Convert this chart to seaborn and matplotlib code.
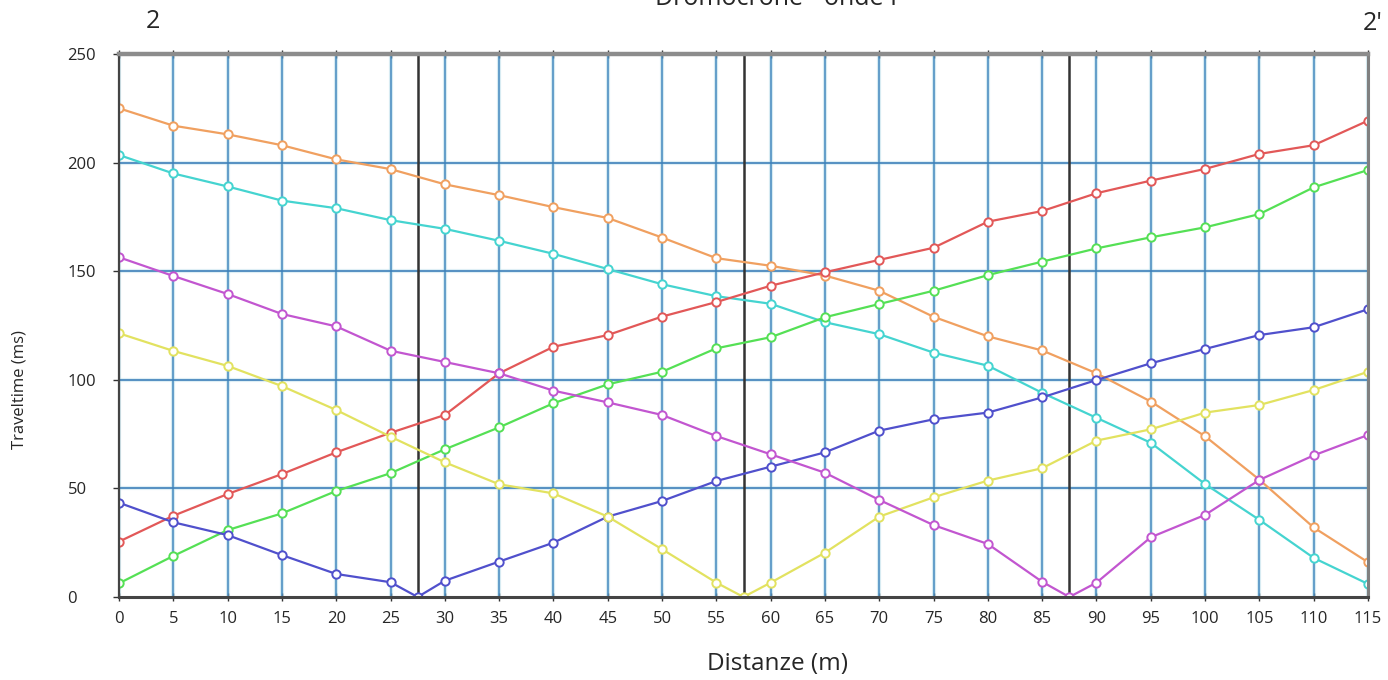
import matplotlib
matplotlib.use("Agg")
import matplotlib.pyplot as plt
import seaborn as sns
import numpy as np

# ---- data ----
x_full = [0, 5, 10, 15, 20, 25, 30, 35, 40, 45, 50, 55, 60, 65, 70, 75, 80, 85, 90, 95, 100, 105, 110, 115]
x_src1 = [0, 5, 10, 15, 20, 25, 27.5, 30, 35, 40, 45, 50, 55, 60, 65, 70, 75, 80, 85, 90, 95, 100, 105, 110, 115]
x_src2 = [0, 5, 10, 15, 20, 25, 30, 35, 40, 45, 50, 55, 57.5, 60, 65, 70, 75, 80, 85, 90, 95, 100, 105, 110, 115]
x_src3 = [0, 5, 10, 15, 20, 25, 30, 35, 40, 45, 50, 55, 60, 65, 70, 75, 80, 85, 87.5, 90, 95, 100, 105, 110, 115]

orange = [225, 217, 213, 208, 201.5, 197, 190, 185, 179.5, 174.5, 165.5, 156, 152.5, 148, 141, 129, 120, 113.5, 103, 90, 74, 54, 32, 16]
cyan = [203.5, 195, 189, 182.5, 179, 173.5, 169.5, 164, 158, 151, 144, 138.5, 135, 126.5, 121, 112.5, 106.5, 94, 82.5, 71, 52, 35.5, 18, 6]
red = [25.5, 37.4, 47.4, 56.6, 66.6, 75.6, 83.8, 103, 115.2, 120.6, 129.1, 135.8, 143.3, 149.5, 155.2, 160.8, 172.8, 177.7, 185.9, 191.7, 197.1, 204, 208, 219.3]
green = [6.3, 18.9, 30.8, 38.5, 48.8, 57, 68, 78.1, 89.2, 97.9, 103.7, 114.5, 119.6, 128.8, 134.9, 141, 148.2, 154.4, 160.5, 165.6, 170.2, 176.3, 188.6, 196.6]
blue = [43.4, 34.4, 28.5, 19.3, 10.6, 6.8, 0, 7.5, 16.3, 25, 37, 44.2, 53.4, 60, 66.6, 76.6, 81.8, 84.9, 91.9, 99.9, 107.6, 114.2, 120.6, 124.2, 132.5]
yellow = [121.4, 113.3, 106.4, 97.1, 86.1, 73.8, 62, 51.9, 47.7, 37, 22, 6.6, 0, 6.6, 20.4, 37, 45.9, 53.6, 59.3, 72, 77.2, 84.9, 88.4, 95.3, 103.7]
magenta = [156.4, 147.8, 139.5, 130.3, 124.6, 113.4, 108.2, 103, 95, 89.6, 83.8, 74.1, 65.7, 57.2, 44.7, 33.1, 24.4, 7, 0, 6.6, 27.5, 37.8, 53.9, 65.2, 74.6]

shot_points = [27.5, 57.5, 87.5]
x_ticks = list(range(0, 116, 5))
y_ticks = [0, 50, 100, 150, 200, 250]

title = "Dromocrone - onde P"
xlabel = "Distanze (m)"
ylabel = "Traveltime (ms)"
left_tag = "2"
right_tag = "2'"

# ---- style ----
sns.set_theme(style="white")
plt.rcParams["font.family"] = ["Open Sans", "DejaVu Sans"]

fig = plt.figure(figsize=(13.88, 6.80), dpi=100)
ax = fig.add_axes([119 / 1388, 1 - 597 / 680, (1368 - 119) / 1388, (597 - 54) / 680])

# grid
for xv in x_ticks:
    ax.axvline(xv, color="#a8d4e4", lw=3.0, alpha=0.45, zorder=0)
    ax.axvline(xv, color="#4f90c2", lw=1.2, zorder=1)
for yv in y_ticks[1:-1]:
    ax.axhline(yv, color="#b8dcea", lw=3.0, alpha=0.45, zorder=0)
    ax.axhline(yv, color="#3d80ba", lw=1.2, zorder=1)

for sp in shot_points:
    ax.axvline(sp, color="#333333", lw=1.8, zorder=2)

series = [
    (x_full, orange, "#f0a060"),
    (x_full, cyan, "#45d4d0"),
    (x_full, red, "#e25858"),
    (x_full, green, "#55e055"),
    (x_src1, blue, "#5050cc"),
    (x_src2, yellow, "#e2e260"),
    (x_src3, magenta, "#c256d0"),
]
for xs, ys, col in series:
    sns.lineplot(x=xs, y=ys, ax=ax, color=col, lw=1.6, marker="o", markersize=6,
                 markerfacecolor="white", markeredgecolor=col, markeredgewidth=1.4,
                 sort=False, zorder=3)

ax.set_xlim(0, 115)
ax.set_ylim(0, 250)
ax.set_xticks(x_ticks)
ax.set_yticks(y_ticks)
ax.set_xticklabels([str(v) for v in x_ticks], fontsize=12)
ax.set_yticklabels([str(v) for v in y_ticks], fontsize=12)
for lbl in ax.get_yticklabels():
    lbl.set_horizontalalignment("left")
ax.tick_params(axis="y", which="both", left=True, length=4, width=1, color="#333333", pad=33)
ax.tick_params(axis="x", which="both", bottom=True, length=4, width=1, color="#333333", pad=7)
ax.tick_params(axis="x", top=True, direction="inout", length=6)

ax.spines["left"].set_color("#444444")
ax.spines["left"].set_linewidth(1.6)
ax.spines["bottom"].set_color("#444444")
ax.spines["bottom"].set_linewidth(2.2)
ax.spines["right"].set_color("#808080")
ax.spines["right"].set_linewidth(2.2)
ax.spines["top"].set_color("#8c8c8c")
ax.spines["top"].set_linewidth(3.2)
for s in ax.spines.values():
    s.set_zorder(4)

ax.set_xlabel("")
ax.set_ylabel("")
fig.text(778 / 1388, 1 - 664 / 680, xlabel, ha="center", va="center", fontsize=17.5)
fig.text(20 / 1388, 1 - 390 / 680, ylabel, ha="center", va="center", rotation=90, fontsize=12)
fig.text(780 / 1388, 1 - 5 / 680, title, ha="center", va="baseline", fontsize=18)
fig.text(153 / 1388, 1 - 21 / 680, left_tag, ha="center", va="center", fontsize=18)
fig.text(1373 / 1388, 1 - 23 / 680, right_tag, ha="center", va="center", fontsize=18)

fig.savefig("out.png", dpi=100)
